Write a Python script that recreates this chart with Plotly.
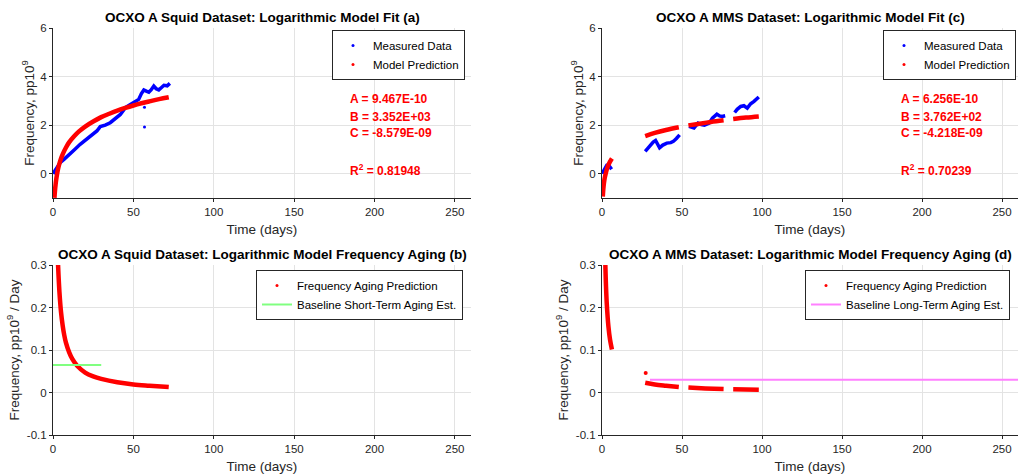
import plotly.graph_objects as go

# ---------------- data ----------------
# (a) Squid dataset: measured frequency (pp10^9) vs time (days)
sq_meas_t = [0.0, 1.5, 3.0, 4.4, 7.0, 10.6, 13.5, 16.9, 20.0, 23.1, 27.3, 29.4, 32.5, 35.6, 38.5,
             41.9, 45.0, 48.0, 50.2, 53.3, 55.0, 56.5, 58.0, 59.6, 61.0, 62.7, 64.2, 65.8, 67.5, 69.0, 71.0, 72.7]
sq_meas_y = [0.0, 0.15, 0.3, 0.45, 0.6, 0.8, 1.0, 1.21, 1.38, 1.55, 1.76, 1.94, 2.0, 2.1, 2.25,
             2.44, 2.72, 2.85, 2.95, 3.06, 3.3, 3.45, 3.4, 3.36, 3.45, 3.61, 3.5, 3.45, 3.55, 3.64, 3.62, 3.72]
sq_outlier_t = [56.9, 56.9]
sq_outlier_y = [2.74, 1.92]
# (a) model prediction
sq_model_t = [0.9, 1.2, 1.6, 2, 2.5, 3, 4, 5, 6, 8, 10, 13, 16, 20, 25, 30, 35, 40, 45, 50, 55, 60, 66, 72]
sq_model_y = [-0.99, -0.72, -0.45, -0.24, -0.03, 0.15, 0.42, 0.63, 0.80, 1.07, 1.29, 1.53, 1.73, 1.94,
              2.15, 2.33, 2.47, 2.60, 2.71, 2.81, 2.90, 2.98, 3.07, 3.15]

# (c) MMS dataset: measured (segments separated by None)
mms_meas_t = [0, 1, 2, 3, 4, 5, 6, None,
              27, 28, 30, 32, 33.5, 35, 36, 38, 40.5, 43, 44.6, 46.5, 48.5, None,
              54.4, 56, 57.5, 60, 62, 64, 67, 69, 71.8, 73.5, 75, 77, None,
              82.9, 84.5, 86.7, 88.7, 90.8, 92.9, 95, 96.5, 98]
mms_meas_y = [0.0, 0.12, 0.25, 0.35, 0.37, 0.28, 0.18, None,
              0.92, 1.0, 1.15, 1.3, 1.37, 1.2, 1.07, 1.18, 1.26, 1.28, 1.33, 1.45, 1.6, None,
              1.95, 1.92, 1.88, 2.08, 2.02, 2.0, 2.08, 2.29, 2.45, 2.38, 2.36, 2.39, None,
              2.52, 2.65, 2.77, 2.80, 2.70, 2.88, 2.98, 3.05, 3.16]
mms_model_t = [0.5, 0.8, 1.2, 1.6, 2, 3, 4, 5, 6.2, None,
               27, 33, 40, 48, None, 54, 60, 68, 76, None, 82, 90, 98]
mms_model_y = [-0.94, -0.65, -0.39, -0.21, -0.08, 0.18, 0.36, 0.50, 0.63, None,
               1.55, 1.68, 1.80, 1.91, None, 1.99, 2.05, 2.13, 2.20, None, 2.25, 2.31, 2.36]

# (b) Squid aging prediction (pp10^9 / day)
sq_aging_t = [2.8, 3.2, 4, 5, 6, 7, 8, 10, 12, 15, 20, 25, 30, 40, 50, 60, 72]
sq_aging_y = [0.338, 0.296, 0.237, 0.189, 0.158, 0.135, 0.118, 0.095, 0.079, 0.063, 0.047, 0.038,
              0.032, 0.024, 0.019, 0.016, 0.013]
sq_base_t = [0, 30]
sq_base_y = [0.065, 0.065]

# (d) MMS aging prediction
mms_aging_t = [2.0, 2.5, 3, 4, 5, 6.2, None, 27, 33, 40, 48, None, 54, 62, 70, 76, None, 82, 90, 98]
mms_aging_y = [0.313, 0.25, 0.208, 0.156, 0.125, 0.101, None, 0.023, 0.019, 0.016, 0.013, None,
               0.0116, 0.0101, 0.0089, 0.0082, None, 0.0076, 0.0070, 0.0064]
mms_aging_dot_t = [27.3]
mms_aging_dot_y = [0.046]
mms_base_t = [30, 260]
mms_base_y = [0.030, 0.030]

x_ticks = [0, 50, 100, 150, 200, 250]
top_y_ticks = [0, 2, 4, 6]
bot_y_ticks = [-0.1, 0, 0.1, 0.2, 0.3]
bot_y_ticktext = ["-0.1", "0", "0.1", "0.2", "0.3"]

titles = ["OCXO A Squid Dataset: Logarithmic Model Fit (a)",
          "OCXO A MMS Dataset: Logarithmic Model Fit (c)",
          "OCXO A Squid Dataset: Logarithmic Model Frequency Aging (b)",
          "OCXO A MMS Dataset: Logarithmic Model Frequency Aging (d)"]
x_label = "Time (days)"
y_label_top = "Frequency, pp10<sup>9</sup>"
y_label_bot = "Frequency, pp10<sup>9</sup> / Day"
params_a = ["A = 9.467E-10", "B = 3.352E+03", "C = -8.579E-09", "R<sup>2</sup> = 0.81948"]
params_c = ["A = 6.256E-10", "B = 3.762E+02", "C = -4.218E-09", "R<sup>2</sup> = 0.70239"]

# ---------------- figure ----------------
W, H = 1018, 474
BLUE, RED = "#0000FF", "#FF0000"
GREEN, MAGENTA = "#80FF80", "#FF80FF"
FONT = "Arial, Liberation Sans, Helvetica, sans-serif"
TXT = "#262626"

fig = go.Figure()

def px_x(p):
    return p / W

def px_y(p):
    return 1 - p / H

# panel (a)
fig.add_trace(go.Scatter(x=sq_meas_t, y=sq_meas_y, mode="lines", line=dict(color=BLUE, width=3.5),
                         xaxis="x", yaxis="y", showlegend=False))
fig.add_trace(go.Scatter(x=sq_outlier_t, y=sq_outlier_y, mode="markers", marker=dict(color=BLUE, size=3),
                         xaxis="x", yaxis="y", showlegend=False))
fig.add_trace(go.Scatter(x=sq_model_t, y=sq_model_y, mode="lines", line=dict(color=RED, width=4.5, shape="spline"),
                         xaxis="x", yaxis="y", showlegend=False))
fig.add_trace(go.Scatter(x=[None], y=[None], mode="markers", marker=dict(color=BLUE, size=3),
                         name="Measured Data", xaxis="x", yaxis="y", legend="legend"))
fig.add_trace(go.Scatter(x=[None], y=[None], mode="markers", marker=dict(color=RED, size=3),
                         name="Model Prediction", xaxis="x", yaxis="y", legend="legend"))

# panel (c)
fig.add_trace(go.Scatter(x=mms_meas_t, y=mms_meas_y, mode="lines", line=dict(color=BLUE, width=3.5),
                         xaxis="x2", yaxis="y2", showlegend=False, connectgaps=False))
fig.add_trace(go.Scatter(x=mms_model_t, y=mms_model_y, mode="lines", line=dict(color=RED, width=4.5, shape="spline"),
                         xaxis="x2", yaxis="y2", showlegend=False, connectgaps=False))
fig.add_trace(go.Scatter(x=[None], y=[None], mode="markers", marker=dict(color=BLUE, size=3),
                         name="Measured Data", xaxis="x2", yaxis="y2", legend="legend2"))
fig.add_trace(go.Scatter(x=[None], y=[None], mode="markers", marker=dict(color=RED, size=3),
                         name="Model Prediction", xaxis="x2", yaxis="y2", legend="legend2"))

# panel (b)
fig.add_trace(go.Scatter(x=sq_aging_t, y=sq_aging_y, mode="lines", line=dict(color=RED, width=4.5, shape="spline"),
                         xaxis="x3", yaxis="y3", showlegend=False))
fig.add_trace(go.Scatter(x=[None], y=[None], mode="markers", marker=dict(color=RED, size=3),
                         name="Frequency Aging Prediction", xaxis="x3", yaxis="y3", legend="legend3"))
fig.add_trace(go.Scatter(x=sq_base_t, y=sq_base_y, mode="lines", line=dict(color=GREEN, width=2),
                         name="Baseline Short-Term Aging Est.", xaxis="x3", yaxis="y3", legend="legend3"))

# panel (d)
fig.add_trace(go.Scatter(x=mms_aging_t, y=mms_aging_y, mode="lines", line=dict(color=RED, width=4.5, shape="spline"),
                         xaxis="x4", yaxis="y4", showlegend=False, connectgaps=False))
fig.add_trace(go.Scatter(x=mms_aging_dot_t, y=mms_aging_dot_y, mode="markers", marker=dict(color=RED, size=4),
                         xaxis="x4", yaxis="y4", showlegend=False))
fig.add_trace(go.Scatter(x=[None], y=[None], mode="markers", marker=dict(color=RED, size=3),
                         name="Frequency Aging Prediction", xaxis="x4", yaxis="y4", legend="legend4"))
fig.add_trace(go.Scatter(x=mms_base_t, y=mms_base_y, mode="lines", line=dict(color=MAGENTA, width=2),
                         name="Baseline Long-Term Aging Est.", xaxis="x4", yaxis="y4", legend="legend4"))

xl = [px_x(53), px_x(471)]
xr = [px_x(602), px_x(1018)]
yt = [px_y(198), px_y(28)]
yb = [px_y(435), px_y(265)]

def xax(dom, anchor):
    return dict(domain=dom, anchor=anchor, range=[0, 260], tickvals=x_ticks, showgrid=True,
                gridcolor="#E3E3E3", gridwidth=1, zeroline=False, showline=True, linecolor=TXT,
                linewidth=1, ticks="outside", ticklen=3, tickcolor=TXT,
                tickfont=dict(family=FONT, size=11.5, color=TXT), automargin=False,
                title=dict(text=x_label, standoff=7, font=dict(family=FONT, size=13.5, color=TXT)))

def yax(dom, anchor, rng, tv, label, standoff, tt=None):
    d = dict(domain=dom, anchor=anchor, range=rng, tickvals=tv, showgrid=True,
             gridcolor="#E3E3E3", gridwidth=1, zeroline=False, showline=True, linecolor=TXT,
             linewidth=1, ticks="outside", ticklen=3, tickcolor=TXT,
             tickfont=dict(family=FONT, size=11.5, color=TXT), automargin=False,
             title=dict(text=label, standoff=standoff, font=dict(family=FONT, size=13.5, color=TXT)))
    if tt is not None:
        d["ticktext"] = tt
    return d

def legend_cfg(xr_px, yt_px):
    return dict(x=px_x(xr_px), y=px_y(yt_px), xanchor="right", yanchor="top",
                bgcolor="white", bordercolor="#262626", borderwidth=1,
                font=dict(family=FONT, size=11.5, color="black"), tracegroupgap=0,
                itemsizing="trace")

annotations = []
title_pos = [(262, 17), (810, 17), (262, 254), (810, 254)]
for t, (cx, cy) in zip(titles, title_pos):
    annotations.append(dict(text="<b>%s</b>" % t, x=px_x(cx), y=px_y(cy), xref="paper", yref="paper",
                            xanchor="center", yanchor="middle", showarrow=False,
                            font=dict(family=FONT, size=13.5, color="black")))

param_rows = [99, 116.7, 133.3, 170]
for params, left in ((params_a, 348), (params_c, 899)):
    for t, row in zip(params, param_rows):
        annotations.append(dict(text="<b>%s</b>" % t, x=px_x(left), y=px_y(row), xref="paper", yref="paper",
                                xanchor="left", yanchor="middle", showarrow=False,
                                font=dict(family=FONT, size=12, color=RED)))

fig.update_layout(
    width=W, height=H, margin=dict(l=0, r=0, t=0, b=0),
    paper_bgcolor="white", plot_bgcolor="white",
    xaxis=xax(xl, "y"), yaxis=yax(yt, "x", [-1, 6], top_y_ticks, y_label_top, 2),
    xaxis2=xax(xr, "y2"), yaxis2=yax(yt, "x2", [-1, 6], top_y_ticks, y_label_top, 2),
    xaxis3=xax(xl, "y3"), yaxis3=yax(yb, "x3", [-0.1, 0.3], bot_y_ticks, y_label_bot, 4, bot_y_ticktext),
    xaxis4=xax(xr, "y4"), yaxis4=yax(yb, "x4", [-0.1, 0.3], bot_y_ticks, y_label_bot, 4, bot_y_ticktext),
    legend=legend_cfg(465, 30), legend2=legend_cfg(1016, 30),
    legend3=legend_cfg(463, 270), legend4=legend_cfg(1010, 270),
    annotations=annotations,
)

fig.write_html("out.html")
